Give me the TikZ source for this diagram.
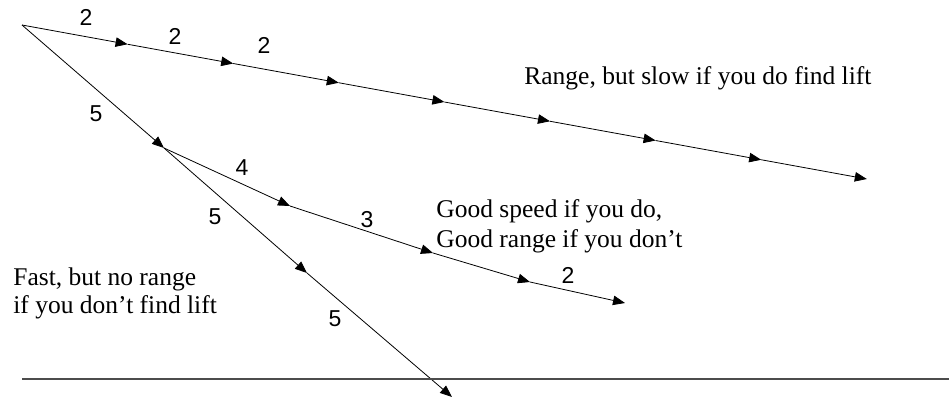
\documentclass[tikz,border=0pt]{standalone}
\usepackage{fontspec}
\setmainfont{Liberation Serif}
\newfontfamily\numfont{Liberation Sans}
\usetikzlibrary{arrows.meta}
\tikzset{
  seg/.style={-{Triangle[length=12pt,width=9.5pt]}},
  num/.style={font=\numfont\fontsize{23}{25}\selectfont, inner sep=0pt},
  note/.style={font=\fontsize{25.5}{30}\selectfont, align=left, anchor=base west, inner sep=0pt}
}
\begin{document}
\begin{tikzpicture}[x=1pt, y=-1pt, line width=0.8pt]
  \useasboundingbox (0,0) rectangle (949,400);
  % top path: long, slow
  \foreach \i in {0,...,8}
    \coordinate (T\i) at ({22+105.6*\i}, {25+19.25*\i});
  \foreach \i [evaluate=\i as \j using int(\i+1)] in {0,...,7}
    \draw[seg] (T\i) -- (T\j);
  % fast path and branch
  \coordinate (B) at (164, 148);
  \coordinate (C1) at (307, 273);
  \coordinate (C2) at (452, 397);
  \coordinate (E1) at (290, 206);
  \coordinate (E2) at (433, 253);
  \coordinate (E3) at (530, 282);
  \coordinate (E4) at (625, 303);
  \draw[seg] (T0) -- (B);
  \draw[seg] (B) -- (C1);
  \draw[seg] (C1) -- (C2);
  \draw[seg] (B) -- (E1);
  \draw[seg] (E1) -- (E2);
  \draw[seg] (E2) -- (E3);
  \draw[seg] (E3) -- (E4);
  % ground
  \coordinate (G0) at (22, 379);
  \coordinate (G1) at (949, 379);
  \draw[line width=1.2pt, black!70] (G0) -- (G1);
  % numbers
  \node[num] (n1) at (86, 17) {2};
  \node[num] (n2) at (175, 36) {2};
  \node[num] (n3) at (264, 45) {2};
  \node[num] (n4) at (96, 114) {5};
  \node[num] (n5) at (242, 168) {4};
  \node[num] (n6) at (215, 217) {5};
  \node[num] (n7) at (367, 220) {3};
  \node[num] (n8) at (568, 275) {2};
  \node[num] (n9) at (335, 319) {5};
  % notes
  \node[note] (slow) at (524, 84) {Range, but slow if you do find lift};
  \node[note] (mid) at (436, 247) {Good speed if you do,\\Good range if you don’t};
  \node[note, font=\fontsize{25.5}{28}\selectfont] (fast) at (13, 313) {Fast, but no range\\if you don’t find lift};
\end{tikzpicture}
\end{document}
